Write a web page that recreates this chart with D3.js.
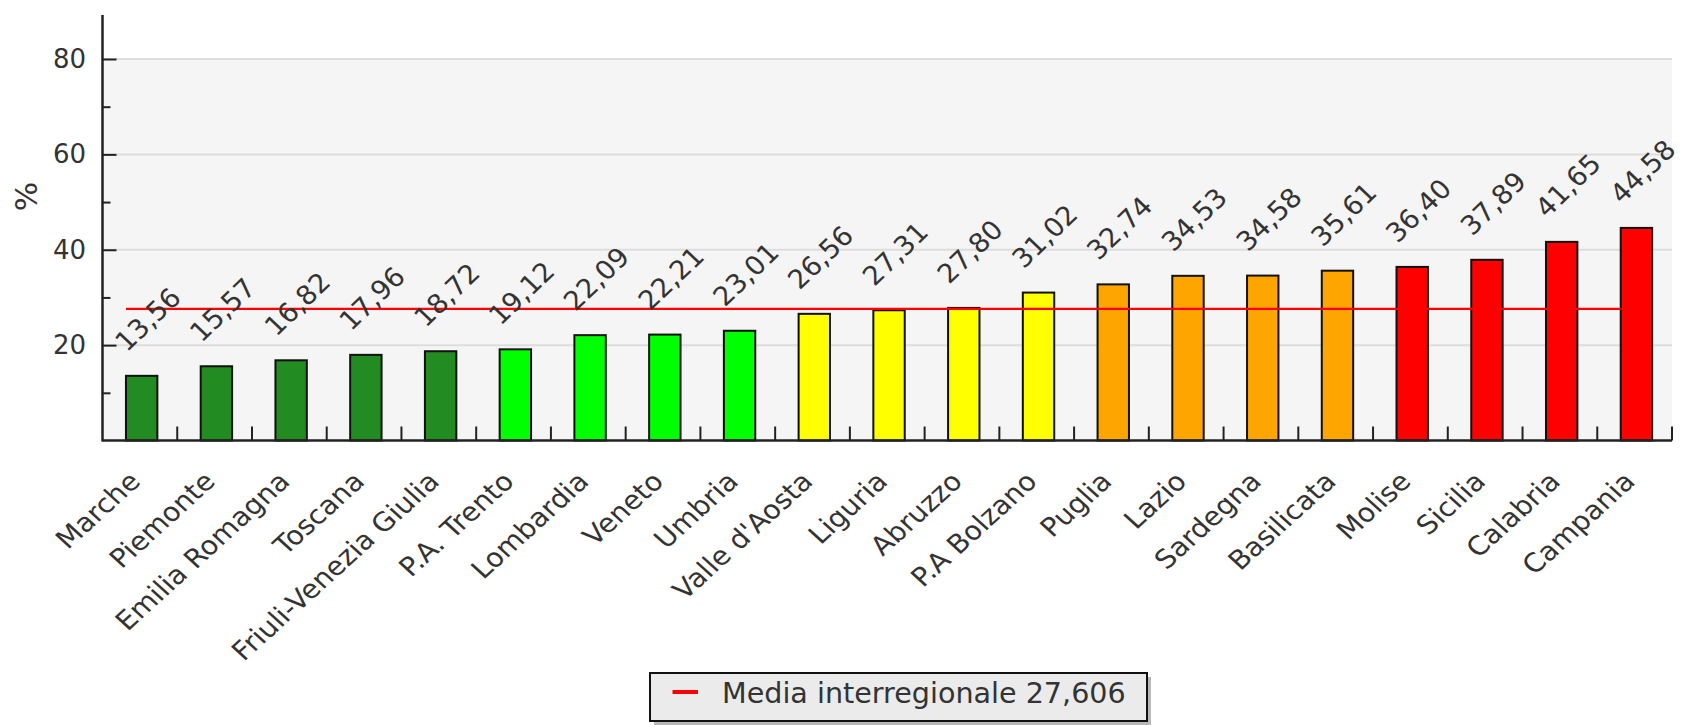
<!DOCTYPE html>
<html>
<head>
<meta charset="utf-8">
<script src="https://cdn.jsdelivr.net/npm/d3@7"></script>
<style>
  html, body { margin: 0; padding: 0; background: #fff; }
  svg { display: block; font-family: "DejaVu Sans", sans-serif; }
</style>
</head>
<body>
<svg id="chart" width="1681" height="725"></svg>
<script>
// Regional percentages, sorted ascending, with the inter-regional mean
const regions = ["Marche", "Piemonte", "Emilia Romagna", "Toscana", "Friuli-Venezia Giulia",
  "P.A. Trento", "Lombardia", "Veneto", "Umbria", "Valle d'Aosta", "Liguria", "Abruzzo",
  "P.A Bolzano", "Puglia", "Lazio", "Sardegna", "Basilicata", "Molise", "Sicilia",
  "Calabria", "Campania"];
const values = [13.56, 15.57, 16.82, 17.96, 18.72, 19.12, 22.09, 22.21, 23.01, 26.56, 27.31,
  27.80, 31.02, 32.74, 34.53, 34.58, 35.61, 36.40, 37.89, 41.65, 44.58];
// colour band of each region (0 = lowest … 4 = highest)
const bands = [0, 0, 0, 0, 0, 1, 1, 1, 1, 2, 2, 2, 2, 3, 3, 3, 3, 4, 4, 4, 4];
const bandColors = ["#228b22", "#00ff00", "#ffff00", "#ffa500", "#ff0000"];
const mean = 27.606;
const meanLabel = "Media interregionale 27,606";
const yMajorTicks = [20, 40, 60, 80];
const yMinorTicks = [10, 30, 50, 70];
const yTitle = "%";

const svg = d3.select("#chart");
const plot = { left: 102.5, right: 1672, top: 59, bottom: 440.5, axisTop: 15 };

const x = d3.scaleBand().domain(regions).range([plot.left, plot.right]).padding(0);
const y = d3.scaleLinear().domain([0, 80]).range([plot.bottom, plot.top]);
const bw = x.bandwidth();
const barOffset = bw * 0.314, barWidth = bw * 0.42;
const color = d3.scaleOrdinal().domain(d3.range(5)).range(bandColors);
const fmt = v => d3.format(".2f")(v).replace(".", ",");
const rows = regions.map((r, i) => ({ region: r, value: values[i], band: bands[i] }));

// plot background and gridlines
svg.append("rect")
  .attr("x", plot.left).attr("y", plot.top)
  .attr("width", plot.right - plot.left).attr("height", plot.bottom - plot.top)
  .attr("fill", "#f5f5f5");
svg.append("g").selectAll("line").data(yMajorTicks).join("line")
  .attr("x1", plot.left).attr("x2", plot.right)
  .attr("y1", d => y(d)).attr("y2", d => y(d))
  .attr("stroke", "#dddddd").attr("stroke-width", 2);

// bars
svg.append("g").selectAll("rect").data(rows).join("rect")
  .attr("x", d => x(d.region) + barOffset)
  .attr("y", d => y(d.value))
  .attr("width", barWidth)
  .attr("height", d => y(0) - y(d.value))
  .attr("fill", d => color(d.band))
  .attr("stroke", "#111").attr("stroke-width", 2);

// mean line
const meanLine = d3.line().x(d => x(d.region) + barOffset).y(() => y(mean));
svg.append("path").datum(rows)
  .attr("d", meanLine)
  .attr("fill", "none").attr("stroke", "#ff0000").attr("stroke-width", 2.2);

// value labels
svg.append("g").selectAll("text").data(rows).join("text")
  .attr("transform", d => `translate(${x(d.region) + bw / 2 - 13},${y(d.value) - 23}) scale(1.04,1) rotate(-45)`)
  .attr("font-size", 26.5).attr("fill", "#333")
  .text(d => fmt(d.value));

// y axis
const yAxis = d3.axisLeft(y).tickValues(yMajorTicks).tickSize(-14).tickPadding(16.5);
const gy = svg.append("g").attr("transform", `translate(${plot.left},0)`).call(yAxis);
gy.select(".domain").remove();
gy.selectAll(".tick line").attr("stroke", "#222").attr("stroke-width", 2);
gy.selectAll(".tick text").attr("font-size", 26).attr("fill", "#333")
  .attr("font-family", "DejaVu Sans");
const yMinor = d3.axisLeft(y).tickValues(yMinorTicks).tickSize(-8).tickFormat("");
const gym = svg.append("g").attr("transform", `translate(${plot.left},0)`).call(yMinor);
gym.select(".domain").remove();
gym.selectAll(".tick line").attr("stroke", "#222").attr("stroke-width", 2);
svg.append("line")
  .attr("x1", plot.left).attr("x2", plot.left)
  .attr("y1", plot.axisTop).attr("y2", plot.bottom + 1)
  .attr("stroke", "#222").attr("stroke-width", 2.5);

// x axis: baseline, boundary ticks between categories, rotated names
svg.append("line")
  .attr("x1", plot.left).attr("x2", plot.right)
  .attr("y1", plot.bottom).attr("y2", plot.bottom)
  .attr("stroke", "#222").attr("stroke-width", 2.5);
svg.append("g").selectAll("line").data(regions).join("line")
  .attr("x1", d => x(d) + bw).attr("x2", d => x(d) + bw)
  .attr("y1", plot.bottom).attr("y2", plot.bottom - 14)
  .attr("stroke", "#222").attr("stroke-width", 2);
svg.append("g").selectAll("text").data(regions).join("text")
  .attr("transform", d => `translate(${x(d) + bw / 2 + 2},483) scale(1.1,1) rotate(-45)`)
  .attr("text-anchor", "end")
  .attr("font-size", 26).attr("fill", "#333")
  .text(d => d);

// y axis title
svg.append("text")
  .attr("transform", "translate(37,196.5) rotate(-90)")
  .attr("text-anchor", "middle")
  .attr("font-size", 31).attr("fill", "#333")
  .text(yTitle);

// legend
const lg = svg.append("g");
lg.append("rect").attr("x", 654).attr("y", 677).attr("width", 497).attr("height", 48)
  .attr("fill", "#b8b8b8");
lg.append("rect").attr("x", 650).attr("y", 673).attr("width", 497).attr("height", 48)
  .attr("fill", "#ebebeb").attr("stroke", "#111").attr("stroke-width", 2);
lg.append("line").attr("x1", 672.5).attr("x2", 698).attr("y1", 692).attr("y2", 692)
  .attr("stroke", "#ff0000").attr("stroke-width", 4);
lg.append("text").attr("x", 722).attr("y", 703)
  .attr("font-size", 28.6).attr("fill", "#333")
  .text(meanLabel);
</script>
</body>
</html>
